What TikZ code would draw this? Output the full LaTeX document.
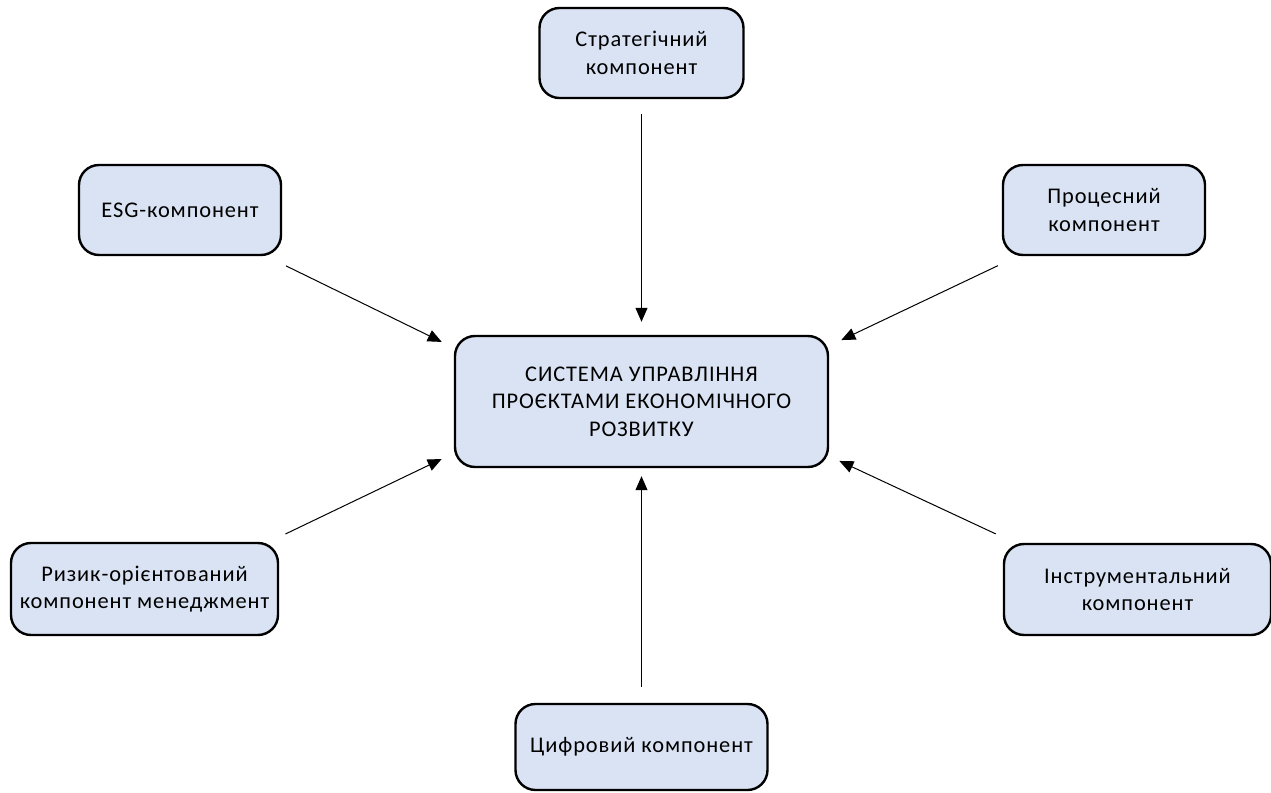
\documentclass[tikz,border=0pt]{standalone}
\usepackage{fontspec}
\setmainfont[LetterSpace=4]{Carlito}
\usepackage{xcolor}
\usetikzlibrary{arrows.meta}

\definecolor{boxblue}{HTML}{DAE3F3}

\tikzset{
  partbox/.style={draw=black, line width=1.2pt, fill=boxblue, rounded corners=10pt,
    align=center, font=\fontsize{11.2pt}{13.7pt}\selectfont, inner sep=2pt},
  link/.style={-{Triangle[length=7pt,width=6pt]}, line width=0.5pt}
}

\begin{document}
\begin{tikzpicture}[x=0.5pt,y=-0.5pt]
        \useasboundingbox (0,0) rectangle (1271,793);

        % central box
        \node[partbox, minimum width=186.5pt, minimum height=65.5pt] (sys) at (641.5,401.5)
            {СИСТЕМА УПРАВЛІННЯ\\ПРОЄКТАМИ ЕКОНОМІЧНОГО\\РОЗВИТКУ};

        % components
        \node[partbox, minimum width=102pt, minimum height=45pt] (strat) at (641.5,53) {Стратегічний\\компонент};
        \node[partbox, minimum width=101pt, minimum height=45pt] (esg) at (180,210) {ESG-компонент};
        \node[partbox, minimum width=101pt, minimum height=45pt] (proc) at (1104,210) {Процесний\\компонент};
        \node[partbox, minimum width=133.5pt, minimum height=46pt] (risk) at (144.5,589) {Ризик-орієнтований\\компонент менеджмент};
        \node[partbox, minimum width=133.5pt, minimum height=45.5pt] (instr) at (1137.5,589.5) {Інструментальний\\компонент};
        \node[partbox, minimum width=126pt, minimum height=43pt] (dig) at (641.5,747) {Цифровий компонент};

        % arrows
        \draw[link, shorten <=7.5pt, shorten >=6.5pt] (strat) -- (sys);
        \draw[link, shorten <=11pt, shorten >=6.7pt] ([xshift=-8pt]esg.south east) -- ([yshift=-6.5pt]sys.north west);
        \draw[link, shorten <=11pt, shorten >=6.7pt] ([xshift=8pt]proc.south west) -- ([yshift=-5.5pt]sys.north east);
        \draw[link, shorten <=9pt, shorten >=6.7pt] ([xshift=-5pt]risk.north east) -- ([yshift=7.5pt]sys.south west);
        \draw[link, shorten <=10.5pt, shorten >=5.6pt] ([xshift=6pt]instr.north west) -- ([yshift=6pt]sys.south east);
        \draw[link, shorten <=8pt, shorten >=4pt] (dig) -- (sys);

    \end{tikzpicture}
\end{document}
